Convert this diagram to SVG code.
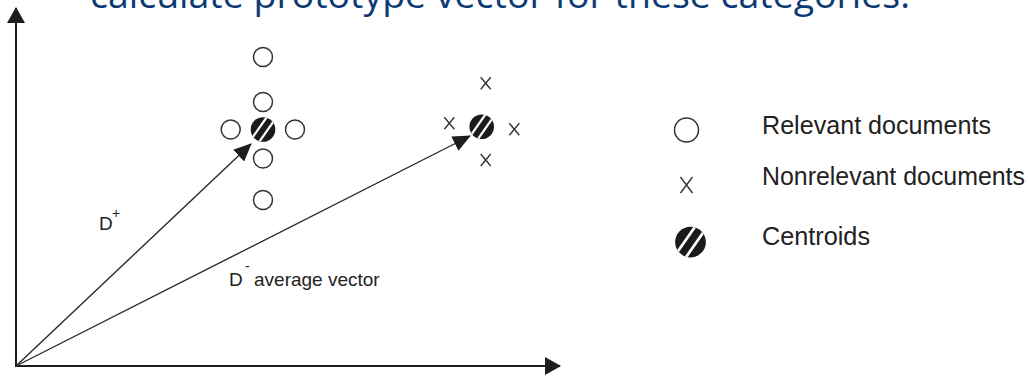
<svg xmlns="http://www.w3.org/2000/svg" xmlns:xlink="http://www.w3.org/1999/xlink" width="1028" height="376" viewBox="0 0 1028 376">
<style>
.ax{stroke:#1e1e1e;stroke-width:2;fill:none}
.vec{stroke:#2a2a2a;stroke-width:1.4;fill:none}
.doc{fill:#fff;stroke:#333;stroke-width:1.5}
.x{stroke:#333;stroke-width:1.4;fill:none}
.lbl{font-family:"Liberation Sans",Arial,sans-serif;fill:#222}
.title{font-family:"Open Sans","Liberation Sans",sans-serif;fill:#0b3a74;font-size:36px}
</style>
<defs>
<marker id="axhead" viewBox="0 0 16 18" refX="15" refY="9" markerWidth="16" markerHeight="18" markerUnits="userSpaceOnUse" orient="auto"><path d="M0,0 L16,9 L0,18 z" fill="#1e1e1e"/></marker>
<marker id="vhead" viewBox="0 0 18 16" refX="17" refY="8" markerWidth="18" markerHeight="16" markerUnits="userSpaceOnUse" orient="auto"><path d="M0,0 L18,8 L0,16 z" fill="#1e1e1e"/></marker>
<clipPath id="cc"><circle r="12.3"/></clipPath>
<g id="cent">
<circle r="12.3" fill="#1b1b1b"/>
<g clip-path="url(#cc)" stroke="#fff" stroke-width="2.2">
<line x1="-10.74" y1="8.35" x2="4.18" y2="-12.95"/>
<line x1="-4.18" y1="12.95" x2="10.74" y2="-8.35"/>
</g>
</g>
<g id="xm"><path d="M-5,-6 L5,6 M5,-6 L-5,6"/></g>
</defs>

<g id="title"><text class="title" x="90" y="8" textLength="820" lengthAdjust="spacingAndGlyphs">calculate prototype vector for these categories.</text></g>

<g id="connectors">
<line class="ax" x1="16" y1="367" x2="16" y2="8" marker-end="url(#axhead)"/>
<line class="ax" x1="15" y1="366" x2="560" y2="366" marker-end="url(#axhead)"/>
<line class="vec" x1="16" y1="366" x2="251" y2="144" marker-end="url(#vhead)"/>
<line class="vec" x1="16" y1="366" x2="470" y2="136" marker-end="url(#vhead)"/>
</g>

<g id="relevant-docs">
<circle class="doc" cx="263" cy="57" r="9.5"/>
<circle class="doc" cx="263" cy="102" r="9.5"/>
<circle class="doc" cx="230.7" cy="129.5" r="9.5"/>
<circle class="doc" cx="295" cy="129.5" r="9.5"/>
<circle class="doc" cx="263" cy="158.5" r="9.5"/>
<circle class="doc" cx="263" cy="200" r="9.5"/>
</g>
<g id="centroid-rel"><use xlink:href="#cent" transform="translate(263,129.5)"/></g>

<g id="nonrelevant-docs" class="x">
<use xlink:href="#xm" transform="translate(485.7,83.3)"/>
<use xlink:href="#xm" transform="translate(449.3,123.3)"/>
<use xlink:href="#xm" transform="translate(514.3,129.3)"/>
<use xlink:href="#xm" transform="translate(485.7,160)"/>
</g>
<g id="centroid-nonrel"><use xlink:href="#cent" transform="translate(481.7,126.7)"/></g>

<g id="label-dplus"><text class="lbl" x="99" y="230" font-size="19">D</text><text class="lbl" x="112" y="218" font-size="14">+</text></g>
<g id="label-dminus"><text class="lbl" x="229" y="286" font-size="19">D</text><text class="lbl" x="245" y="271" font-size="14">-</text><text class="lbl" x="254" y="286" font-size="19">average vector</text></g>

<g id="legend">
<g id="legend-relevant"><circle class="doc" cx="686.5" cy="130" r="12"/><text class="lbl" x="762" y="134" font-size="25" textLength="229" lengthAdjust="spacingAndGlyphs">Relevant documents</text></g>
<g id="legend-nonrelevant"><path class="x" d="M680.5,177 L692.5,193 M692.5,177 L680.5,193"/><text class="lbl" x="762" y="185" font-size="25" textLength="263" lengthAdjust="spacingAndGlyphs">Nonrelevant documents</text></g>
<g id="legend-centroid"><use xlink:href="#cent" transform="translate(690.5,242) scale(1.25)"/><text class="lbl" x="762" y="245" font-size="25" textLength="108" lengthAdjust="spacingAndGlyphs">Centroids</text></g>
</g>
</svg>
